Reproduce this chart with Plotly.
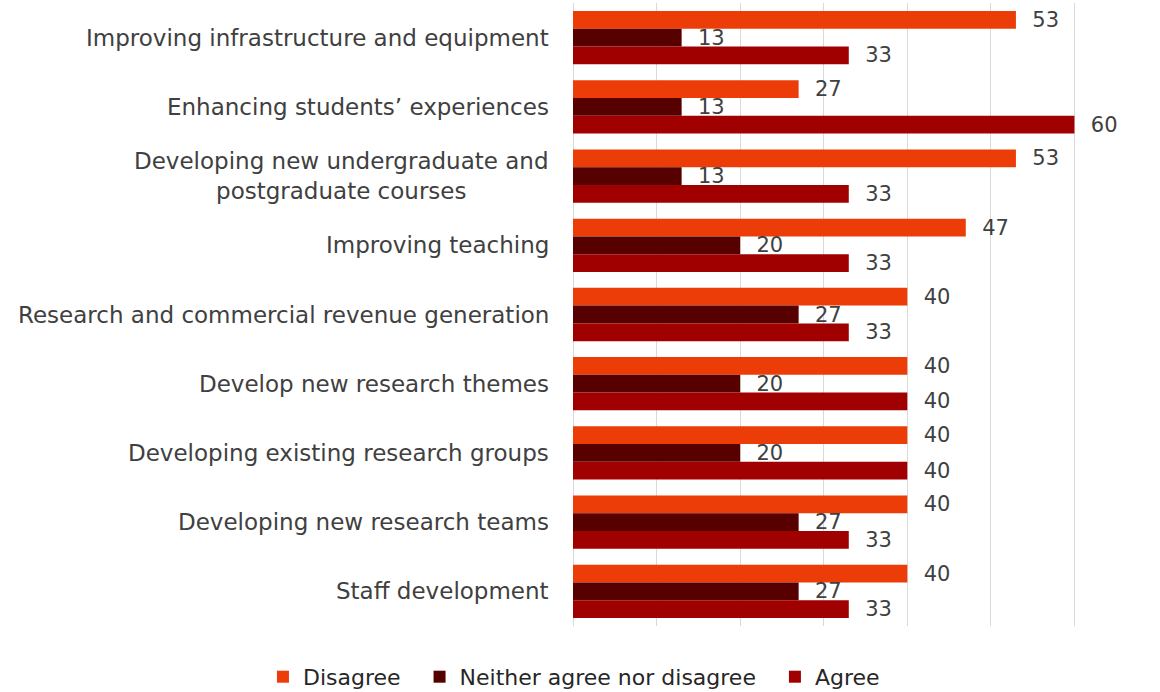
import plotly.graph_objects as go

categories = [
    "Improving infrastructure and equipment",
    "Enhancing students\u2019 experiences",
    "Developing new undergraduate and<br>postgraduate courses",
    "Improving teaching",
    "Research and commercial revenue generation",
    "Develop new research themes",
    "Developing existing research groups",
    "Developing new research teams",
    "Staff development",
]
disagree = [53, 27, 53, 47, 40, 40, 40, 40, 40]
neither = [13, 13, 13, 20, 27, 20, 20, 27, 27]
agree = [33, 60, 33, 33, 33, 40, 40, 33, 33]

series = [
    ("Disagree", disagree, "#EC3C08"),
    ("Neither agree nor disagree", neither, "#560000"),
    ("Agree", agree, "#A00000"),
]

FONT = "DejaVu Sans"
NB = "\u00a0"
fig = go.Figure()
for name, vals, color in series:
    fig.add_trace(go.Bar(
        y=categories, x=vals, name=name + NB * 2, orientation="h",
        marker=dict(color=color, line=dict(width=0)),
        text=[NB * 2 + str(v) for v in vals], textposition="outside",
        constraintext="none",
        textfont=dict(family=FONT, size=21, color="#404040"),
        cliponaxis=False,
    ))

# category labels drawn as centred annotations next to the axis
for c in categories:
    fig.add_annotation(
        x=0, xref="paper", y=c, yref="y", text=c, showarrow=False,
        xanchor="right", yanchor="middle", align="center", xshift=-22,
        font=dict(family=FONT, size=23, color="#404040"),
    )

fig.update_layout(
    width=1160, height=692,
    margin=dict(l=573, r=2, t=3, b=66, autoexpand=False),
    barmode="group", bargap=0.23, bargroupgap=0,
    plot_bgcolor="white", paper_bgcolor="white",
    xaxis=dict(range=[0, 70], dtick=10, showticklabels=False,
               showgrid=True, gridcolor="#D9D9D9", gridwidth=1.3,
               zeroline=True, zerolinecolor="#D9D9D9", zerolinewidth=1.3,
               fixedrange=True),
    yaxis=dict(autorange="reversed", showticklabels=False, showgrid=False,
               ticks="", fixedrange=True),
    # legend sits below the plot, starting left of the plot area
    legend=dict(orientation="h", xref="paper", yref="paper",
                x=-0.53, xanchor="left", y=-0.048, yanchor="top",
                font=dict(family=FONT, size=22, color="#262626"),
                itemwidth=30, traceorder="normal"),
    showlegend=True,
)

fig.write_html("out.html")
